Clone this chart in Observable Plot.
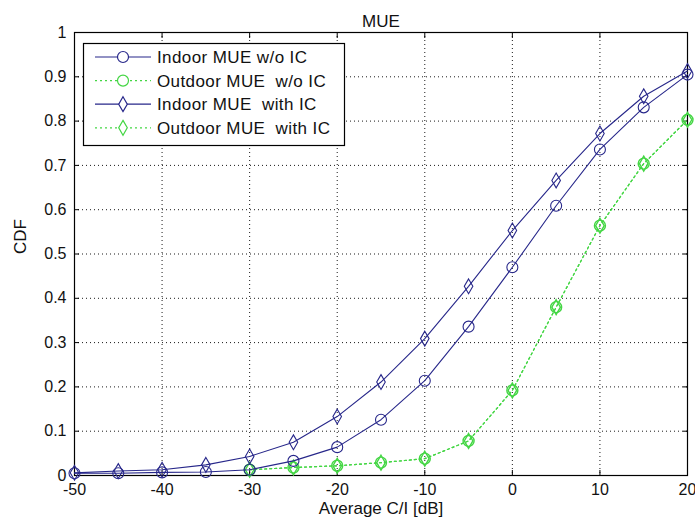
<!DOCTYPE html>
<html>
<head>
<meta charset="utf-8">
<script src="https://cdn.jsdelivr.net/npm/d3@7"></script>
<script src="https://cdn.jsdelivr.net/npm/@observablehq/plot@0.6"></script>
<style>
  html, body { margin: 0; padding: 0; background: #fff; }
  #chart { width: 695px; height: 525px; }
</style>
</head>
<body>
<div id="chart"></div>
<script>
const titleText = "MUE";
const xLabel = "Average C/I [dB]";
const yLabel = "CDF";

const xIndoor = [-50, -45, -40, -35, -30, -25, -20, -15, -10, -5, 0, 5, 10, 15, 20];
const indoorNoIC = [0.005, 0.005, 0.007, 0.008, 0.013, 0.033, 0.064, 0.126, 0.214, 0.336, 0.470, 0.609, 0.736, 0.831, 0.905];
const indoorIC   = [0.006, 0.010, 0.013, 0.024, 0.043, 0.075, 0.133, 0.211, 0.309, 0.427, 0.553, 0.666, 0.772, 0.856, 0.913];

const xOutdoor = [-30, -25, -20, -15, -10, -5, 0, 5, 10, 15, 20];
const outdoorNoIC = [0.013, 0.018, 0.022, 0.029, 0.038, 0.078, 0.192, 0.380, 0.564, 0.704, 0.803];
const outdoorIC   = [0.013, 0.018, 0.022, 0.029, 0.038, 0.078, 0.192, 0.380, 0.564, 0.704, 0.803];

const xTicks = [-50, -40, -30, -20, -10, 0, 10, 20];
const yTicks = [0, 0.1, 0.2, 0.3, 0.4, 0.5, 0.6, 0.7, 0.8, 0.9, 1];

const seriesNames = ["Indoor MUE w/o IC", "Outdoor MUE  w/o IC", "Indoor MUE  with IC", "Outdoor MUE  with IC"];

const BLUE = "#27278a";
const GREEN = "#44d644";

const toRows = (xs, ys) => xs.map((x, i) => ({x, y: ys[i]}));
const sInNo = toRows(xIndoor, indoorNoIC);
const sInIC = toRows(xIndoor, indoorIC);
const sOutNo = toRows(xOutdoor, outdoorNoIC);
const sOutIC = toRows(xOutdoor, outdoorIC);

const font = "'Liberation Sans', Arial, sans-serif";

const plot = Plot.plot({
  width: 695,
  height: 525,
  marginLeft: 74,
  marginRight: 8,
  marginTop: 32,
  marginBottom: 50,
  style: {fontFamily: font, fontSize: "16px", color: "#111", background: "#fff"},
  x: {domain: [-50, 20], ticks: xTicks, label: null},
  y: {domain: [0, 1], ticks: yTicks, label: null},
  marks: [
    Plot.gridX(xTicks, {stroke: "#000", strokeOpacity: 0.9, strokeDasharray: "1,3"}),
    Plot.gridY(yTicks, {stroke: "#000", strokeOpacity: 0.9, strokeDasharray: "1,3"}),
    Plot.axisX(xTicks, {anchor: "bottom", tickSize: 0, tickPadding: 8, tickFormat: d => String(d), label: null, fontSize: 16}),
    Plot.axisY(yTicks, {anchor: "left", tickSize: 0, tickPadding: 8, tickFormat: d => String(d), label: null, fontSize: 16}),
    Plot.axisX(xTicks, {anchor: "bottom", tickSize: 5, dy: -5, text: null, label: null, stroke: "#000"}),
    Plot.axisX(xTicks, {anchor: "top", tickSize: 5, dy: 5, text: null, label: null, stroke: "#000"}),
    Plot.axisY(yTicks, {anchor: "left", tickSize: 5, dx: 5, text: null, label: null, stroke: "#000"}),
    Plot.axisY(yTicks, {anchor: "right", tickSize: 5, dx: -5, text: null, label: null, stroke: "#000"}),
    Plot.frame({stroke: "#000", strokeWidth: 1.2}),
    Plot.line(sOutNo, {x: "x", y: "y", stroke: GREEN, strokeWidth: 1.2, strokeDasharray: "2,3"}),
    Plot.line(sOutIC, {x: "x", y: "y", stroke: GREEN, strokeWidth: 1.2, strokeDasharray: "2,3"}),
    Plot.dot(sOutNo, {x: "x", y: "y", symbol: "circle", r: 5.5, stroke: GREEN, strokeWidth: 1.4, fill: "none"}),
    Plot.dot(sOutIC, {x: "x", y: "y", symbol: "diamond", r: 4.5, stroke: GREEN, strokeWidth: 1.4, fill: "none"}),
    Plot.line(sInNo, {x: "x", y: "y", stroke: BLUE, strokeWidth: 1.1}),
    Plot.line(sInIC, {x: "x", y: "y", stroke: BLUE, strokeWidth: 1.1}),
    Plot.dot(sInNo, {x: "x", y: "y", symbol: "circle", r: 5.5, stroke: BLUE, strokeWidth: 1.1, fill: "none"}),
    Plot.dot(sInIC, {x: "x", y: "y", symbol: "diamond", r: 4.5, stroke: BLUE, strokeWidth: 1.1, fill: "none"}),
    Plot.text([titleText], {frameAnchor: "top", dy: -18, fontSize: 17, fill: "#111"}),
    Plot.text([xLabel], {frameAnchor: "bottom", dy: 38, fontSize: 17, fill: "#111", letterSpacing: "0.5px"}),
    Plot.text([yLabel], {frameAnchor: "left", dx: -54, rotate: -90, fontSize: 17, fill: "#111"})
  ]
});

document.getElementById("chart").appendChild(plot);

// Legend drawn inside the SVG
const svg = d3.select(plot);
const lg = svg.append("g").attr("font-family", font).attr("font-size", 17).attr("text-anchor", "start");
lg.append("rect").attr("x", 83.5).attr("y", 43.5).attr("width", 261).attr("height", 102)
  .attr("fill", "#fff").attr("stroke", "#000").attr("stroke-width", 1.2);
const legendStyles = [
  {color: BLUE, dash: null, sym: d3.symbolCircle, r: 5.5},
  {color: GREEN, dash: "2,3", sym: d3.symbolCircle, r: 5.5},
  {color: BLUE, dash: null, sym: d3.symbolDiamond, r: 4.5},
  {color: GREEN, dash: "2,3", sym: d3.symbolDiamond, r: 4.5}
];
seriesNames.forEach((name, i) => {
  const st = legendStyles[i];
  const yy = 57 + i * 23.6;
  const ln = lg.append("line").attr("x1", 95).attr("x2", 151).attr("y1", yy).attr("y2", yy)
    .attr("stroke", st.color).attr("stroke-width", 1.2);
  if (st.dash) ln.attr("stroke-dasharray", st.dash);
  lg.append("path").attr("d", d3.symbol(st.sym, Math.PI * st.r * st.r)())
    .attr("transform", `translate(123,${yy})`).attr("fill", "#fff")
    .attr("stroke", st.color).attr("stroke-width", 1.2);
  lg.append("text").attr("x", 157).attr("y", yy).attr("dy", "0.35em")
    .attr("fill", "#111").attr("letter-spacing", "0.4px").text(name);
});
</script>
</body>
</html>
